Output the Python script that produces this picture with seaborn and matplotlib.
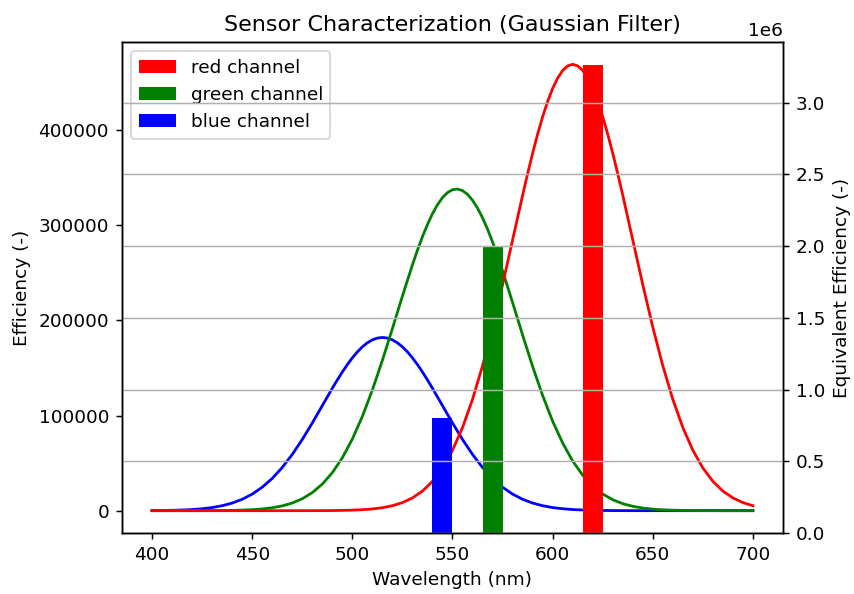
import matplotlib
matplotlib.use("Agg")
import matplotlib.pyplot as plt
import seaborn as sns
import pandas as pd

# ---- data ----
wavelength = list(range(400, 701, 5))

blue_curve = [117, 219, 398, 704, 1209, 2022, 3287, 5199, 7997, 11963,
              17406, 24631, 33900, 45382, 59087, 74822, 92153, 110389, 128610, 145734,
              160614, 172165, 179490, 182000, 179490, 172165, 160614, 145734, 128610, 110389,
              92153, 74822, 59087, 45382, 33900, 24631, 17406, 11963, 7997, 5199,
              3287, 2022, 1209, 704, 398, 219, 117, 61, 31, 15,
              7, 3, 1, 1, 0, 0, 0, 0, 0, 0, 0]

green_curve = [1, 2, 5, 10, 21, 44, 87, 168, 318, 584,
               1044, 1815, 3067, 5043, 8065, 12543, 18972, 27915, 39945, 55594,
               75249, 99068, 126855, 157985, 191362, 225439, 258313, 287864, 312015, 328921,
               337250, 336313, 326194, 307708, 282321, 251935, 218659, 184572, 151539, 121004,
               93978, 71129, 52153, 37265, 25898, 17505, 11509, 7358, 4577, 2768,
               1628, 932, 518, 281, 148, 76, 38, 18, 9, 4,
               2]

red_curve = [0, 0, 0, 0, 0, 0, 0, 0, 0, 0,
             0, 1, 2, 4, 9, 19, 39, 80, 157, 302,
             565, 1026, 1813, 3116, 5210, 8472, 13397, 20606, 30827, 44853,
             63472, 87357, 116946, 152262, 192812, 237471, 284463, 331418, 375546, 413891,
             443655, 462531, 469000, 462531, 443655, 413891, 375546, 331418, 284463, 237471,
             192812, 152262, 116946, 87357, 63472, 44853, 30827, 20606, 13397, 8472,
             5210]

# extra readings near the peaks (half-step wavelengths)
blue_peak_wl = [492.5, 497.5, 502.5, 507.5, 512.5, 517.5, 522.5, 527.5, 532.5, 537.5]
blue_peak_val = [137381, 153526, 166868, 176400, 181369, 181369, 176400, 166868, 153526, 137381]

green_peak_wl = [532.5, 537.5, 542.5, 547.5, 552.5, 557.5, 562.5, 567.5, 572.5]
green_peak_val = [273634, 300738, 321471, 334219, 337953, 332367, 317919, 295768, 267621]

red_peak_wl = [587.5, 592.5, 597.5, 602.5, 607.5, 612.5, 617.5, 622.5, 627.5, 632.5]
red_peak_val = [354020, 395624, 430005, 454570, 467374, 467374, 454570, 430005, 395624, 354020]

channel_labels = ["red channel", "green channel", "blue channel"]
channel_colors = ["red", "green", "blue"]
channel_positions = [620, 570, 545]
channel_values = [3.26e6, 2.0e6, 0.8e6]


def curve_frame(base_y, extra_x, extra_y):
    df = pd.DataFrame({"wl": wavelength + extra_x, "eff": base_y + extra_y})
    return df.sort_values("wl")


blue_df = curve_frame(blue_curve, blue_peak_wl, blue_peak_val)
green_df = curve_frame(green_curve, green_peak_wl, green_peak_val)
red_df = curve_frame(red_curve, red_peak_wl, red_peak_val)

# ---- figure ----
DPI = 400 / 3
fig = plt.figure(figsize=(854 / DPI, 594 / DPI), dpi=DPI)
ax1 = fig.add_subplot(111)
fig.subplots_adjust(left=122 / 854, right=783 / 854, bottom=1 - 533 / 594, top=1 - 42 / 594)

sns.lineplot(data=blue_df, x="wl", y="eff", color="blue", ax=ax1)
sns.lineplot(data=green_df, x="wl", y="eff", color="green", ax=ax1)
sns.lineplot(data=red_df, x="wl", y="eff", color="red", ax=ax1)

ax1.set_xlabel("Wavelength (nm)")
ax1.set_ylabel("Efficiency (-)")
ax1.set_title("Sensor Characterization (Gaussian Filter)")

ax2 = ax1.twinx()
handles = []
for lab, col, pos, val in zip(channel_labels, channel_colors, channel_positions, channel_values):
    b = ax2.bar(pos, val, width=10, color=col, label=lab)
    handles.append(b)
ax2.set_ylabel("Equivalent Efficiency (-)")
ax2.grid(True)

ax1.legend(handles, channel_labels, loc="upper left")

fig.savefig("out.png", dpi=DPI)
